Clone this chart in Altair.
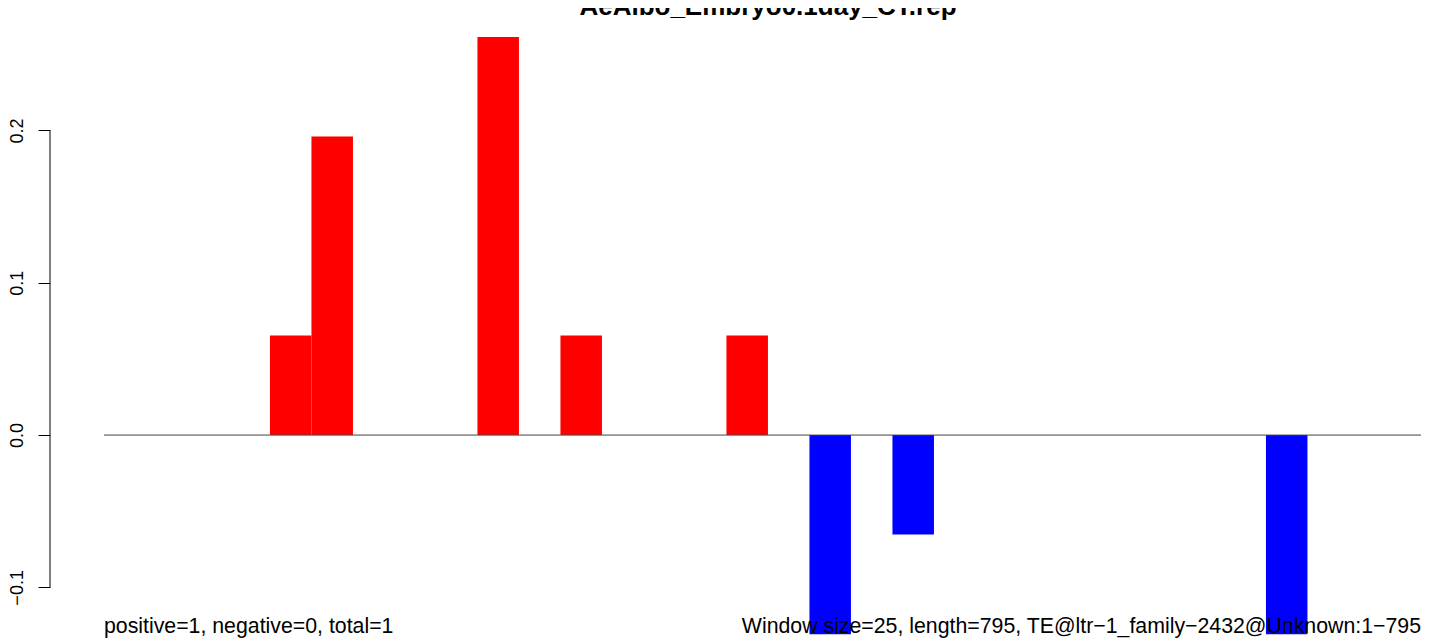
import altair as alt
import pandas as pd

# ---- data ----
title_text = "AeAlbo_Embryo0.1day_CT.rep"
window_size = 25
seq_length = 795
window_index = [4, 5, 9, 11, 15, 17, 19, 28]
values = [0.0653, 0.1960, 0.2613, 0.0653, 0.0653, -0.1307, -0.0653, -0.1307]
y_ticks = [-0.1, 0.0, 0.1, 0.2]
left_note = "positive=1, negative=0, total=1"
right_note = "Window size=25, length=795, TE@ltr\u22121_family\u22122432@Unknown:1\u2212795"

df = pd.DataFrame({
    "start": [i * window_size for i in window_index],
    "end": [(i + 1) * window_size for i in window_index],
    "value": values,
})
df["sign"] = ["pos" if v >= 0 else "neg" for v in values]

W, H = 1371, 631
FONT = "Liberation Sans"
xs = alt.Scale(domain=[-32.5, 793.4], nice=False, zero=False)
ys = alt.Scale(domain=[-0.1339, 0.2804], nice=False, zero=False)

bars = alt.Chart(df).mark_rect().encode(
    x=alt.X("start:Q", scale=xs, axis=None),
    x2="end:Q",
    y=alt.Y("value:Q", scale=ys,
            axis=alt.Axis(values=y_ticks, format=".1f", title=None, grid=False,
                          domain=False, tickSize=12, tickColor="black", tickWidth=1,
                          labelAngle=270, labelAlign="center", labelBaseline="alphabetic",
                          labelPadding=16, labelFont=FONT, labelFontSize=18,
                          labelColor="black")),
    y2=alt.datum(0),
    color=alt.Color("sign:N", scale=alt.Scale(domain=["pos", "neg"], range=["#ff0000", "#0000ff"]),
                    legend=None),
)

zero_line = alt.Chart(pd.DataFrame({"v": [0.0]})).mark_rule(color="#444444", strokeWidth=1).encode(
    x=alt.datum(0, scale=xs),
    x2=alt.value(W),
    y=alt.Y("v:Q", scale=ys),
)

axis_line = alt.Chart(pd.DataFrame({"lo": [min(y_ticks)], "hi": [max(y_ticks)]})).mark_rule(
    color="black", strokeWidth=1).encode(
    x=alt.value(0),
    y=alt.Y("lo:Q", scale=ys),
    y2="hi:Q",
)

title = alt.Chart(pd.DataFrame({"t": [title_text]})).mark_text(
    font=FONT, fontSize=26, fontWeight="bold", color="black", align="center", baseline="alphabetic"
).encode(x=alt.datum(400, scale=xs), y=alt.value(7), text="t:N")

note_left = alt.Chart(pd.DataFrame({"t": [left_note]})).mark_text(
    font=FONT, fontSize=21.3, color="black", align="left", baseline="alphabetic"
).encode(x=alt.datum(0, scale=xs), y=alt.value(625), text="t:N")

note_right = alt.Chart(pd.DataFrame({"t": [right_note]})).mark_text(
    font=FONT, fontSize=21.3, color="black", align="right", baseline="alphabetic"
).encode(x=alt.value(W), y=alt.value(625), text="t:N")

chart = alt.layer(bars, zero_line, axis_line, title, note_left, note_right).properties(
    width=W, height=H,
    autosize=alt.AutoSizeParams(type="none"),
    padding={"left": 42, "top": 0, "right": 0, "bottom": 0},
    background="white",
).configure_view(stroke=None)

chart.save("out.html", embed_options={"renderer": "svg", "actions": False})
